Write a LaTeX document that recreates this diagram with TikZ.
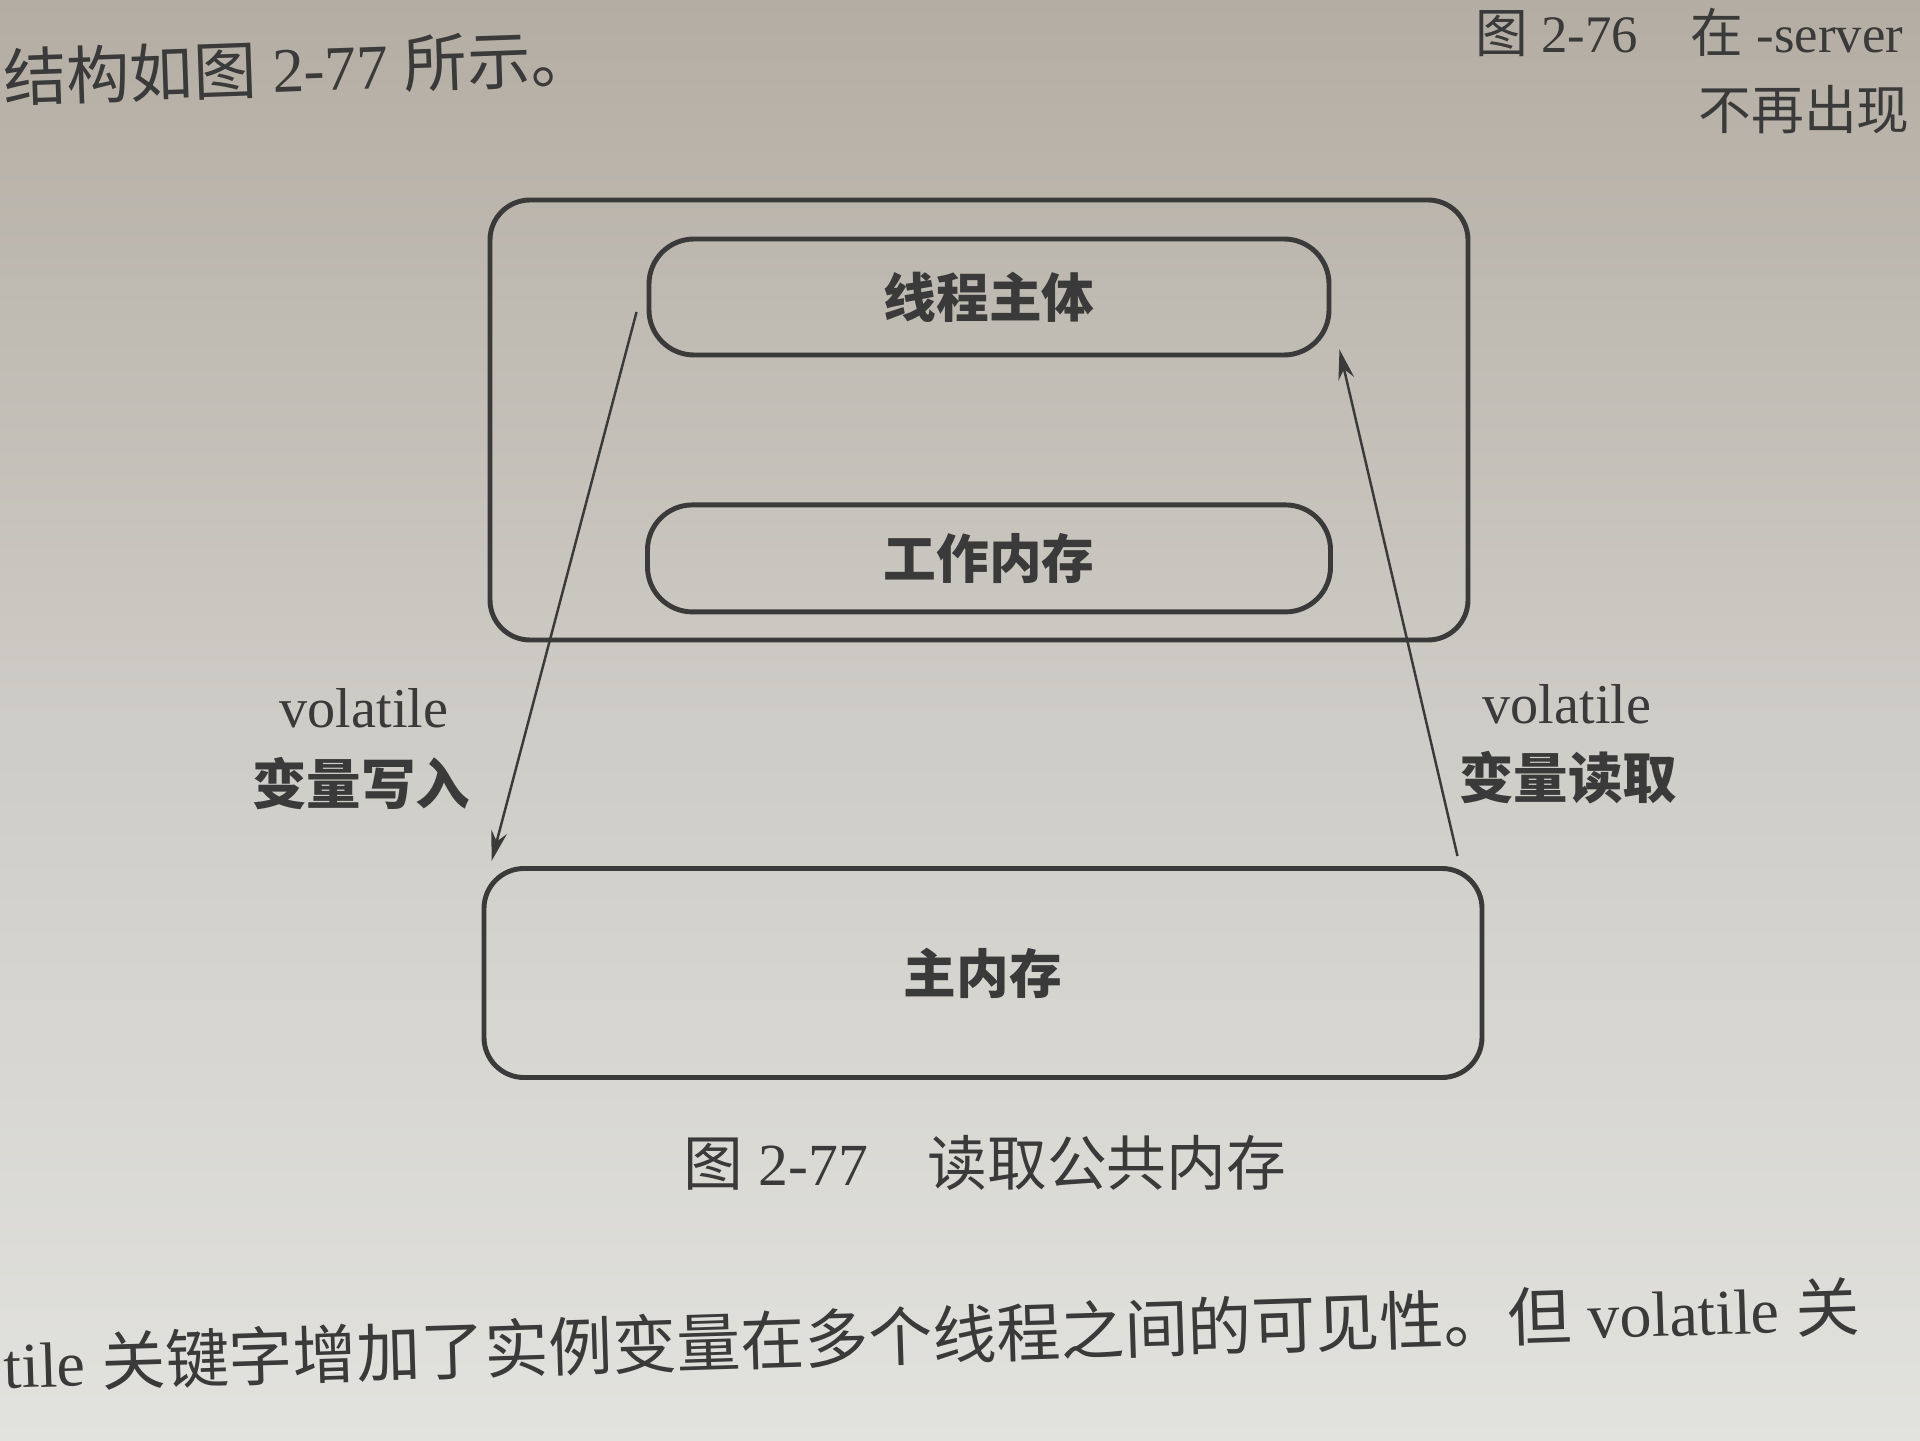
\documentclass[tikz,border=0pt]{standalone}
\usepackage{fontspec}
\usepackage{xcolor}
\setmainfont{Liberation Serif}
\newfontfamily\cjk{Noto Sans CJK SC}
\usetikzlibrary{positioning, calc, arrows.meta}

\definecolor{ink}{RGB}{58,58,58}
\definecolor{papertop}{RGB}{180,173,163}
\definecolor{papermid}{RGB}{206,204,198}
\definecolor{paperbot}{RGB}{226,226,222}

\begin{document}
\begin{tikzpicture}[
    node distance=1.45cm,
    box/.style={draw=ink, line width=1.4pt, rectangle, rounded corners=0.45cm, align=center, text=ink, font=\cjk\bfseries\fontsize{15}{18}\selectfont},
    arrow/.style={draw=ink, line width=0.7pt, -{Stealth[length=3mm,width=1.6mm]}},
    lbl/.style={text=ink, align=center, inner sep=0pt}
]

% paper
\useasboundingbox (0,0) rectangle (19.2,14.4);
\shade[top color=papertop, bottom color=paperbot, middle color=papermid] (0,0) rectangle (19.2,14.4);

% page text
\node (prev) [lbl, anchor=west, rotate=2, font=\fontsize{18}{20}\selectfont] at (0.03,13.62) {{\cjk 结构如图} 2-77 {\cjk 所示。}};
\node (ref) [lbl, anchor=west, font=\fontsize{15}{18}\selectfont] at (14.75,14.08) {{\cjk 图} 2-76\quad{\cjk 在} -server};
\node (next) [lbl, anchor=west, font=\cjk\fontsize{15}{18}\selectfont] at (16.98,13.3) {不再出现};
\node (para) [lbl, anchor=west, rotate=1.8, font=\fontsize{18.2}{22}\selectfont] at (0.03,0.76) {tile {\cjk 关键字增加了实例变量在多个线程之间的可见性。但} volatile {\cjk 关}};

% Thread Group
\node (thread) [box, minimum width=6.8cm, minimum height=1.16cm] at (9.89,11.43) {线程主体};
\node (work) [box, minimum width=6.83cm, minimum height=1.07cm, below=of thread] {工作内存};
\node (outer) [box, rounded corners=0.4cm, minimum width=9.78cm, minimum height=4.4cm] at (9.79,10.2) {};

% Main memory
\node (mainmem) [box, rounded corners=0.4cm, minimum width=9.98cm, minimum height=2.09cm] at (9.83,4.67) {主内存};

% Labels
\node (wvol) [lbl, font=\fontsize{16}{18}\selectfont] at (3.64,7.32) {volatile};
\node (wtxt) [lbl, font=\cjk\bfseries\fontsize{15.5}{18}\selectfont] at (3.61,6.56) {变量写入};
\node (rvol) [lbl, font=\fontsize{16}{18}\selectfont] at (15.67,7.36) {volatile};
\node (rtxt) [lbl, font=\cjk\bfseries\fontsize{15.5}{18}\selectfont] at (15.68,6.62) {变量读取};

% Caption
\node (cap) [lbl, font=\fontsize{17}{20}\selectfont] at (9.85,2.77) {{\cjk 图} 2-77\quad{\cjk 读取公共内存}};

% Arrows
\coordinate (wstart) at ([xshift=-1mm,yshift=-1.5mm]thread.west);
\coordinate (wend) at ([xshift=1mm,yshift=0.5mm]mainmem.north west);
\coordinate (rstart) at ([xshift=-2.7mm,yshift=1mm]mainmem.north east);
\coordinate (rend) at ([xshift=0.8mm,yshift=0.8mm]thread.south east);
\draw[arrow] (wstart) -- (wend);
\draw[arrow] (rstart) -- (rend);

\end{tikzpicture}
\end{document}
